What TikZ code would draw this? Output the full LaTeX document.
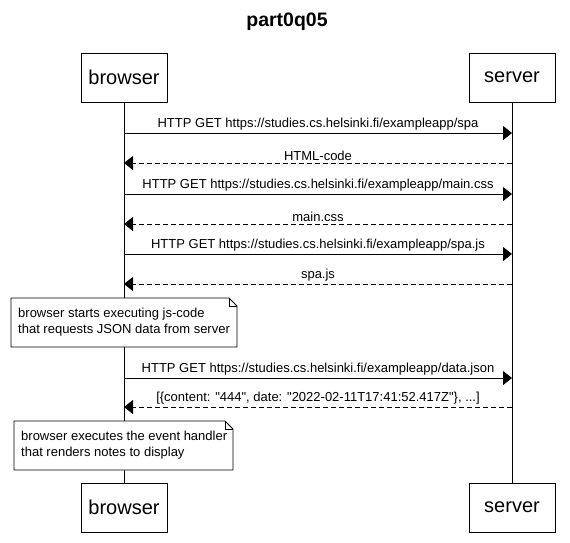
\documentclass[tikz,border=0pt]{standalone}
\usepackage{fontspec}
\setmainfont{Liberation Sans}[Ligatures=TeXOff]
\usetikzlibrary{arrows.meta}
\begin{document}
\begin{tikzpicture}[x=1pt,y=-1pt,
  actor/.style={draw,line width=0.8pt,minimum width=86pt,minimum height=49pt,font=\fontsize{20}{23}\selectfont,inner sep=0pt},
  msg/.style={line width=0.8pt,-{Triangle[length=9pt,width=14pt]}},
  reply/.style={msg,dash pattern=on 5pt off 3pt},
  lbl/.style={font=\fontsize{13}{15}\selectfont,inner sep=0pt},
  notetxt/.style={inner sep=0pt,align=left,anchor=west,font=\fontsize{13}{16}\selectfont},
  life/.style={line width=0.8pt}]
\useasboundingbox (0,0) rectangle (570,542);
\node[font=\bfseries\fontsize{19.5}{23}\selectfont] (title) at (287,22) {part0q05};
\node[actor] (bt) at (124,77.5) {browser};
\node[actor] (st) at (512,77.5) {server};
\node[actor] (bb) at (124,507.5) {browser};
\node[actor] (sb) at (512,507.5) {server};
\draw[life] (bt) -- (bb);
\draw[life] (st) -- (sb);
% messages
\coordinate (b1) at (124,133); \coordinate (s1) at (512,133);
\coordinate (b2) at (124,163); \coordinate (s2) at (512,163);
\coordinate (b3) at (124,194); \coordinate (s3) at (512,194);
\coordinate (b4) at (124,224); \coordinate (s4) at (512,224);
\coordinate (b5) at (124,254); \coordinate (s5) at (512,254);
\coordinate (b6) at (124,284); \coordinate (s6) at (512,284);
\coordinate (b7) at (124,378); \coordinate (s7) at (512,378);
\coordinate (b8) at (124,407); \coordinate (s8) at (512,407);
\draw[msg] (b1) -- node[lbl,above=2pt] {HTTP GET https://studies.cs.helsinki.fi/exampleapp/spa} (s1);
\draw[reply] (s2) -- node[lbl,above=2pt] {HTML-code} (b2);
\draw[msg] (b3) -- node[lbl,above=2pt] {HTTP GET https://studies.cs.helsinki.fi/exampleapp/main.css} (s3);
\draw[reply] (s4) -- node[lbl,above=2pt] {main.css} (b4);
\draw[msg] (b5) -- node[lbl,above=2pt] {HTTP GET https://studies.cs.helsinki.fi/exampleapp/spa.js} (s5);
\draw[reply] (s6) -- node[lbl,above=2pt] {spa.js} (b6);
\draw[msg] (b7) -- node[lbl,above=2pt] {HTTP GET https://studies.cs.helsinki.fi/exampleapp/data.json} (s7);
\draw[reply] (s8) -- node[lbl,above=2pt] {[\{content: "444", date: "2022-02-11T17:41:52.417Z"\}, ...]} (b8);
% notes
\draw[fill=white,line width=0.8pt] (11,298) -- (229,298) -- (237,306) -- (237,347) -- (11,347) -- cycle;
\draw[line width=0.8pt] (229,298) -- (229,306) -- (237,306);
\node[notetxt] (n1) at (18,322) {browser starts executing js-code\\that requests JSON data from server};
\draw[fill=white,line width=0.8pt] (14,421) -- (225,421) -- (233,429) -- (233,470) -- (14,470) -- cycle;
\draw[line width=0.8pt] (225,421) -- (225,429) -- (233,429);
\node[notetxt] (n2) at (21,445) {browser executes the event handler\\that renders notes to display};
\end{tikzpicture}
\end{document}
